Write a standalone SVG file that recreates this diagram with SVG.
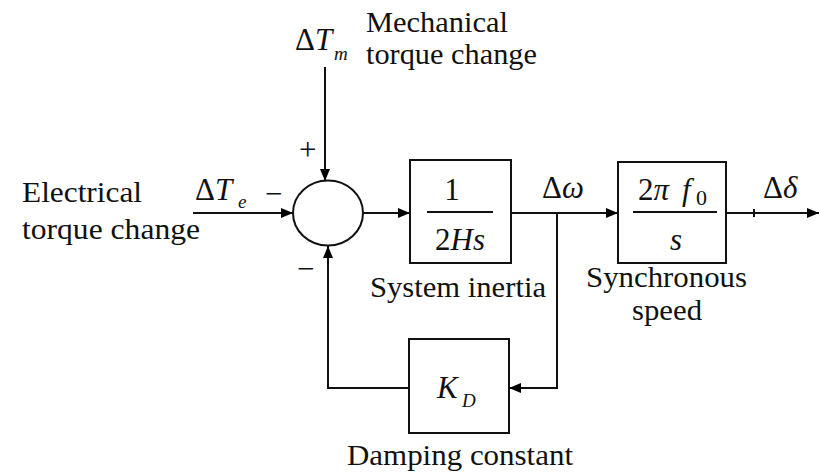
<svg xmlns="http://www.w3.org/2000/svg" width="819" height="475" viewBox="0 0 819 475">
<defs>
<marker id="ah" markerWidth="12" markerHeight="10" refX="12" refY="5" orient="auto" markerUnits="userSpaceOnUse">
<path d="M0,0 L12,5 L0,10 Z" fill="#000"/>
</marker>
<style>
.b{fill:#fff;stroke:#111;stroke-width:2}
.c{fill:none;stroke:#111;stroke-width:2}
.a{fill:none;stroke:#111;stroke-width:2;marker-end:url(#ah)}
</style>
</defs>
<rect width="819" height="475" fill="#fff"/>

<g id="labels" font-family="Times New Roman, Liberation Serif, serif" fill="#111">
<text font-size="29" x="22" y="202" textLength="120" lengthAdjust="spacingAndGlyphs">Electrical</text>
<text font-size="29" x="22" y="239" textLength="178" lengthAdjust="spacingAndGlyphs">torque change</text>
<text font-size="29" x="366" y="32" textLength="142" lengthAdjust="spacingAndGlyphs">Mechanical</text>
<text font-size="29" x="366" y="64" textLength="171" lengthAdjust="spacingAndGlyphs">torque change</text>
<text font-size="31" x="295" y="50">Δ<tspan font-style="italic">T</tspan></text>
<text font-size="19" font-style="italic" x="334" y="60">m</text>
<text font-size="31" x="195" y="200">Δ<tspan font-style="italic">T</tspan></text>
<text font-size="19" font-style="italic" x="238" y="208">e</text>
<text font-size="31" x="542" y="198">Δ<tspan font-style="italic">ω</tspan></text>
<text font-size="31" x="763" y="198">Δ<tspan font-style="italic">δ</tspan></text>
<text font-size="31" font-style="italic" x="297" y="160">+</text>
<text font-size="31" x="265" y="204">−</text>
<text font-size="31" x="297" y="279">−</text>
</g>

<g id="sum">
<ellipse cx="328" cy="213" rx="35" ry="32.5" class="b"/>
</g>

<g id="inertia">
<rect x="410" y="160" width="101" height="103" class="b"/>
<line x1="427" y1="212" x2="493" y2="212" class="c"/>
<g font-family="Times New Roman, Liberation Serif, serif" fill="#111">
<text font-size="31" x="452" y="200" text-anchor="middle">1</text>
<text font-size="31" x="460" y="250" text-anchor="middle">2<tspan font-style="italic">Hs</tspan></text>
<text font-size="29" x="370" y="297" textLength="176" lengthAdjust="spacingAndGlyphs">System inertia</text>
</g>
</g>

<g id="sync">
<rect x="618" y="162" width="108" height="101" class="b"/>
<line x1="633" y1="212" x2="717" y2="212" class="c"/>
<g font-family="Times New Roman, Liberation Serif, serif" fill="#111">
<text font-size="31" x="638" y="200">2<tspan font-style="italic">π</tspan></text>
<text font-size="31" font-style="italic" x="682" y="200">f</text>
<text font-size="22" x="696" y="205">0</text>
<text font-size="31" font-style="italic" x="676" y="250" text-anchor="middle">s</text>
<text font-size="29" x="586" y="287" textLength="161" lengthAdjust="spacingAndGlyphs">Synchronous</text>
<text font-size="29" x="632" y="320" textLength="70" lengthAdjust="spacingAndGlyphs">speed</text>
</g>
</g>

<g id="damping">
<rect x="409" y="339" width="100" height="94" class="b"/>
<g font-family="Times New Roman, Liberation Serif, serif" fill="#111">
<text font-size="31" font-style="italic" x="437" y="398">K</text>
<text font-size="19" font-style="italic" x="462" y="407">D</text>
<text font-size="29" x="347" y="465" textLength="226" lengthAdjust="spacingAndGlyphs">Damping constant</text>
</g>
</g>

<g id="connectors">
<line x1="325" y1="67" x2="325" y2="181" class="a"/>
<line x1="193" y1="213" x2="293" y2="213" class="a"/>
<line x1="363" y1="213" x2="410" y2="213" class="a"/>
<line x1="511" y1="213" x2="618" y2="213" class="a"/>
<line x1="726" y1="213" x2="819" y2="213" class="a"/>
<line x1="754" y1="209" x2="754" y2="217" class="c" stroke-width="1"/>
<polyline points="557,213 557,388 509,388" class="a"/>
<polyline points="409,388 328,388 328,246" class="a"/>
</g>
</svg>
